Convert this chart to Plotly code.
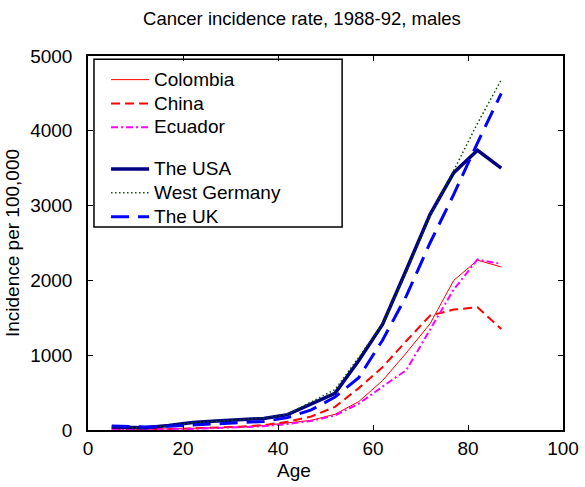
import plotly.graph_objects as go

ages = [5, 12, 17, 22, 27, 32, 37, 42, 47, 52, 57, 62, 67, 72, 77, 82, 87]
colombia = [20, 10, 15, 20, 30, 40, 60, 90, 130, 210, 380, 660, 1030, 1420, 2000, 2270, 2180]
china = [15, 10, 15, 20, 30, 45, 65, 110, 180, 310, 560, 840, 1190, 1530, 1610, 1640, 1350]
ecuador = [15, 10, 10, 15, 25, 35, 50, 80, 120, 195, 350, 580, 800, 1340, 1880, 2280, 2220]
usa = [40, 30, 60, 100, 120, 135, 155, 205, 345, 490, 930, 1410, 2140, 2880, 3440, 3740, 3500]
germany = [35, 30, 55, 95, 115, 135, 160, 210, 370, 540, 970, 1420, 2110, 2860, 3470, 4100, 4680]
uk = [55, 40, 50, 65, 80, 95, 115, 165, 270, 440, 700, 1200, 1790, 2500, 3150, 3840, 4500]

FONT = "Liberation Sans, Arial, sans-serif"

series = [
    ("Colombia", colombia, "#FF0000", 1, "solid", "g1"),
    ("China", china, "#FF0000", 2, "9px,5px", "g1"),
    ("Ecuador", ecuador, "#FF00FF", 2, "7px,3px,2px,3px", "g1"),
    ("The USA", usa, "#000080", 3.5, "solid", "g2"),
    ("West Germany", germany, "#0B4A0B", 1.5, "1.5px,2.5px", "g2"),
    ("The UK", uk, "#0000FF", 3, "18px,9px", "g2"),
]

fig = go.Figure()
for name, vals, color, w, dash, grp in series:
    fig.add_trace(go.Scatter(
        x=ages, y=vals, mode="lines",
        name='<span style="font-size:19px">' + name + '</span>',
        legendgroup=grp,
        line=dict(color=color, width=w, dash=dash),
    ))

fig.update_layout(
    width=585, height=487,
    margin=dict(l=88, r=22, t=56, b=57, autoexpand=False),
    paper_bgcolor="white", plot_bgcolor="white",
    font=dict(family=FONT, size=19, color="black"),
    title=dict(text="Cancer incidence rate, 1988-92, males", x=302 / 585, xanchor="center",
               xref="container", y=0.962, yanchor="middle", font=dict(size=18.5, color="black")),
    showlegend=True,
    legend=dict(x=0.038, y=0.982, xanchor="left", yanchor="top",
                bgcolor="rgba(255,255,255,0)", borderwidth=0,
                traceorder="grouped", tracegroupgap=18,
                font=dict(size=16, color="black"), itemwidth=38),
    shapes=[dict(type="rect", xref="paper", yref="paper", x0=0.0126, x1=0.535,
                 y0=0.543, y1=0.991, line=dict(color="black", width=1.5),
                 fillcolor="white", layer="below")],
    annotations=[dict(text="Age", xref="paper", yref="paper", x=0.434, y=-0.107,
                      xanchor="center", yanchor="middle", showarrow=False,
                      font=dict(size=19, color="black"))],
)
fig.update_xaxes(range=[0, 100], dtick=20, tick0=0, showgrid=False, zeroline=False,
                 automargin=False,
                 showline=True, linecolor="black", linewidth=1.5, mirror="ticks",
                 ticks="inside", ticklen=5, tickcolor="black",
                 tickfont=dict(size=19))
fig.update_yaxes(range=[0, 5000], dtick=1000, tick0=0, showgrid=False, zeroline=False,
                 automargin=False,
                 showline=True, linecolor="black", linewidth=1.5, mirror="ticks",
                 ticks="inside", ticklen=5, tickcolor="black", tickformat="d",
                 ticklabelstandoff=10,
                 title=dict(text="Incidence per 100,000", standoff=6, font=dict(size=19)),
                 tickfont=dict(size=19))

fig.write_html("out.html")
